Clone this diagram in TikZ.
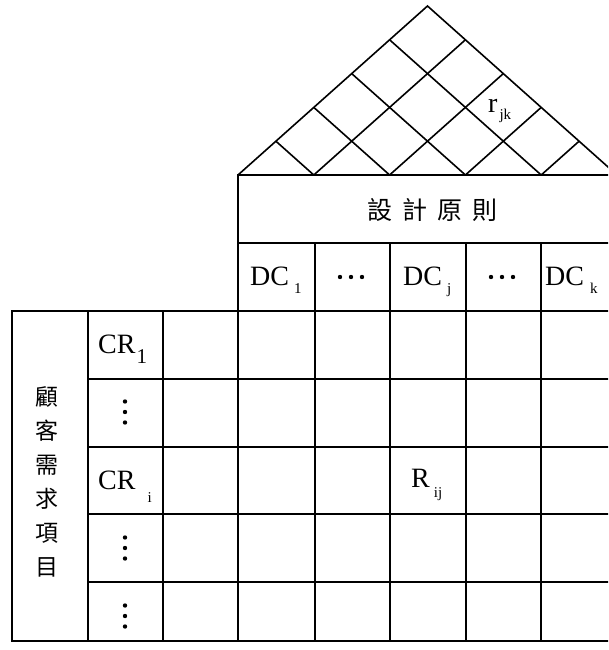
\documentclass[tikz,border=0pt]{standalone}
\usepackage{fontspec}
\setmainfont{Liberation Serif}
\newfontfamily\cjk{Noto Sans CJK TC}
\usetikzlibrary{calc}
\tikzset{
  gridline/.style={line width=1.6pt, black},
  big/.style={font=\fontsize{28}{28}\selectfont, inner sep=0pt, anchor=base west},
  cjklab/.style={font=\cjk\fontsize{25}{25}\selectfont, inner sep=0pt},
  dotmark/.style={fill=black, draw=none},
}
\newcommand{\subs}[2]{\raisebox{-#1pt}{\fontsize{15}{15}\selectfont #2}}
\begin{document}
\begin{tikzpicture}[x=1pt,y=-1pt]
\useasboundingbox (0,0) rectangle (608,650);
\clip (0,0) rectangle (608,650);
% roof
\coordinate (L) at (238,175);
\coordinate (R) at (617,175);
\coordinate (A) at (427.5,6);
\draw[gridline] (L) -- (A) -- (R);
\foreach \i in {1,2,3,4} {
  \draw[gridline] ($(L)!\i/5!(R)$) -- ($(A)!\i/5!(R)$);
  \draw[gridline] ($(L)!\i/5!(R)$) -- ($(L)!\i/5!(A)$);
}
% header box
\draw[gridline] (238,641) -- (238,175) -- (617,175);
\draw[gridline] (238,243) -- (617,243);
\foreach \x in {315,390,466,541} \draw[gridline] (\x,243) -- (\x,641);
% main table
\draw[gridline] (12,311) rectangle (617,641);
\foreach \y in {379,447,514,582} \draw[gridline] (88,\y) -- (617,\y);
\draw[gridline] (88,311) -- (88,641);
\draw[gridline] (163,311) -- (163,641);
% texts
\node[cjklab] (design) at (432,210) {設\hspace{10pt}計\hspace{10pt}原\hspace{10pt}則};
\node[cjklab, align=center, font=\cjk\fontsize{23}{34}\selectfont] (cust) at (47,482) {顧\\客\\需\\求\\項\\目};
\node[big] (dc1) at (250,285) {DC\hspace{5pt}\subs{8}{1}};
\node[big] (dcj) at (403,285) {DC\hspace{5pt}\subs{8}{j}};
\node[big] (dck) at (545,285) {DC\hspace{6pt}\subs{8}{k}};
\node[big] (cr1) at (98,353) {CR\hspace{1pt}\raisebox{-10pt}{\fontsize{21}{21}\selectfont 1}};
\node[big] (cri) at (98,489) {CR\hspace{12pt}\subs{13}{i}};
\node[big] (rij) at (411,487) {R\hspace{4pt}\subs{10}{ij}};
\node[big] (rjk) at (488,113) {r\hspace{2pt}\subs{7}{jk}};
% dots
\foreach \cx in {351,502} \foreach \d in {-11,0,11} \fill[dotmark] (\cx+\d,277) circle (2.2);
\foreach \cy in {412,548,616} \foreach \d in {-10.5,0,10.5} \fill[dotmark] (125,\cy+\d) circle (2.2);
\end{tikzpicture}
\end{document}
